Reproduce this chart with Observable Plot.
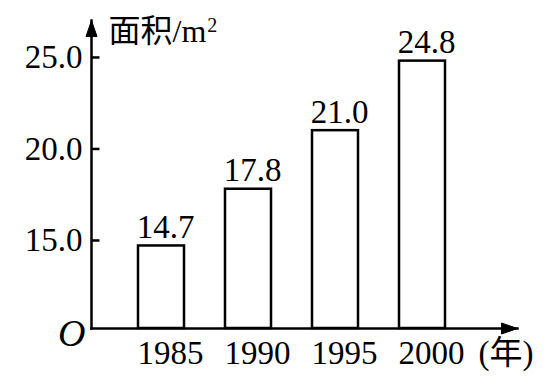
<!DOCTYPE html>
<html>
<head>
<meta charset="utf-8">
<script src="https://cdn.jsdelivr.net/npm/d3@7"></script>
<script src="https://cdn.jsdelivr.net/npm/@observablehq/plot@0.6"></script>
<style>
  html, body { margin: 0; padding: 0; background: white; }
</style>
</head>
<body>
<div id="chart"></div>
<script>
// Data
const years = ["1985", "1990", "1995", "2000"];
const areas = [14.7, 17.8, 21.0, 24.8];
const yTicks = [15, 20, 25];
const yLabel = "面积/m";
const yLabelSup = "2";
const xLabel = "(年)";
const originLabel = "O";
// broken axis: the origin O sits at this value of the (truncated) y scale
const yBase = 10.19;
const yTop = 27.02;

const data = years.map((year, i) => ({year, value: areas[i]}));

const upArrow = {
  draw(ctx) {
    ctx.moveTo(0, 0);
    ctx.lineTo(5.5, 16);
    ctx.lineTo(-5.5, 16);
    ctx.closePath();
  }
};
const tickRight = {
  draw(ctx) {
    ctx.moveTo(0, 0);
    ctx.lineTo(8, 0);
  }
};

const FONT = "'Liberation Serif', 'Times New Roman', 'Noto Sans CJK SC', serif";
const labelSize = 32;

// measure the label width so the superscript follows it
const ctx2d = document.createElement("canvas").getContext("2d");
ctx2d.font = `${labelSize}px ${FONT}`;
const labelWidth = ctx2d.measureText(yLabel).width;

const plot = Plot.plot({
  width: 545,
  height: 389,
  marginLeft: 91,
  marginRight: 28,
  marginTop: 20,
  marginBottom: 61,
  style: {fontFamily: FONT, fontSize: "33px", color: "black", background: "white"},
  x: {type: "band", domain: years, paddingInner: 0.474, paddingOuter: 0.674, align: 0.39},
  y: {domain: [yBase, yTop]},
  marks: [
    Plot.barY(data, {x: "year", y1: yBase, y2: "value", fill: "white", stroke: "black", strokeWidth: 2.5}),
    Plot.frame({anchor: "left", stroke: "black", strokeWidth: 2.5}),
    Plot.frame({anchor: "bottom", stroke: "black", strokeWidth: 2.5}),
    Plot.dot([yTop], {y: d => d, frameAnchor: "left", symbol: upArrow, fill: "black", stroke: "black", strokeWidth: 1}),
    Plot.dot([yBase], {y: d => d, frameAnchor: "right", symbol: upArrow, rotate: 90, fill: "black", stroke: "black", strokeWidth: 1}),
    Plot.dot(yTicks, {y: d => d, frameAnchor: "left", symbol: tickRight, fill: "none", stroke: "black", strokeWidth: 2.5}),
    Plot.axisY({ticks: yTicks, tickFormat: d => d.toFixed(1), tickSize: 0, tickPadding: 9, fontSize: 33, label: null, fill: "black"}),
    Plot.axisX({tickSize: 0, tickPadding: 12, fontSize: 33, dx: 9, label: null, fill: "black"}),
    Plot.text(data, {x: "year", y: "value", text: d => d.value.toFixed(1), lineAnchor: "bottom", dy: -8, dx: 4, fontSize: 33, fill: "black"}),
    Plot.text([yLabel], {text: d => d, frameAnchor: "top-left", textAnchor: "start", lineAnchor: "bottom", dx: 17, dy: 21, fontSize: labelSize, fill: "black"}),
    Plot.text([yLabelSup], {text: d => d, frameAnchor: "top-left", textAnchor: "start", lineAnchor: "bottom", dx: 17 + labelWidth + 1, dy: 11, fontSize: 20, fill: "black"}),
    Plot.text([xLabel], {text: d => d, frameAnchor: "bottom-right", textAnchor: "end", lineAnchor: "top", dx: 16, dy: 12, fontSize: 33, fill: "black"}),
    Plot.text([originLabel], {text: d => d, frameAnchor: "bottom-left", textAnchor: "end", lineAnchor: "middle", dx: -6, dy: 5, fontSize: 38, fontStyle: "italic", fill: "black"})
  ]
});
document.getElementById("chart").appendChild(plot);
</script>
</body>
</html>
